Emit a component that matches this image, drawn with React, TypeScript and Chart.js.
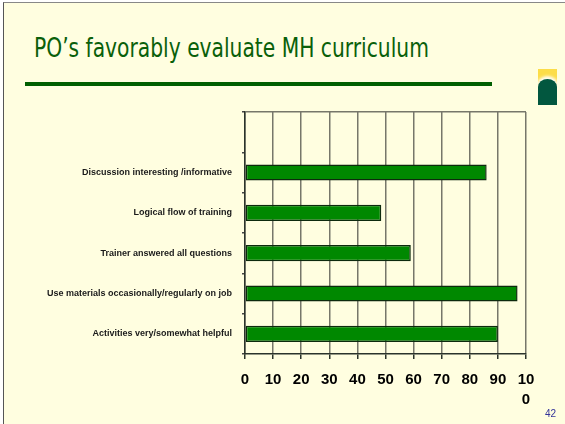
import React, { useEffect, useRef } from "react";
import { Chart, registerables } from "chart.js";
Chart.register(...registerables);

const titleText = "PO\u2019s favorably evaluate MH curriculum";
const slideNumber = "42";
const categories = [
  "",
  "Discussion interesting /informative",
  "Logical flow of training",
  "Trainer answered all questions",
  "Use materials occasionally/regularly on job",
  "Activities very/somewhat helpful",
];
const values: (number | null)[] = [null, 86, 48.5, 59, 97, 90];
const xTickLabels: (string | string[])[] = ["0", "10", "20", "30", "40", "50", "60", "70", "80", "90", ["10", "0"]];

const GRID = "#77776a";
const DARK = "#2b332b";

export default function App() {
  const ref = useRef<HTMLCanvasElement | null>(null);
  useEffect(() => {
    if (!ref.current) return;
    const chart = new Chart(ref.current, {
      type: "bar",
      data: {
        labels: categories,
        datasets: [
          {
            data: values,
            backgroundColor: "#008800",
            borderColor: "#0d2a0d",
            borderWidth: 1.5,
            borderSkipped: false,
            barPercentage: 0.4,
            categoryPercentage: 1,
          },
        ],
      },
      options: {
        indexAxis: "y",
        animation: false,
        responsive: false,
        layout: { padding: { top: 112, right: 39, left: 0, bottom: 0 } },
        plugins: { legend: { display: false }, tooltip: { enabled: false } },
        scales: {
          x: {
            min: 0,
            max: 100,
            afterFit: (s: any) => {
              s.height = 70;
            },
            ticks: {
              stepSize: 10,
              color: "#000",
              padding: 11,
              maxRotation: 0,
              autoSkip: false,
              font: { family: "'Liberation Sans', Arial, sans-serif", size: 15, weight: "bold", lineHeight: 1.33 },
              callback: (_v: any, i: number) => xTickLabels[i],
            },
            grid: { color: GRID, lineWidth: 1.5, tickLength: 5, tickColor: DARK, tickWidth: 1.5 },
            border: { color: DARK, width: 1.5 },
          },
          y: {
            afterFit: (s: any) => {
              s.width = 245;
            },
            ticks: {
              color: "#1a1a1a",
              padding: 10,
              autoSkip: false,
              font: { family: "'Liberation Sans', Arial, sans-serif", size: 9, weight: "bold" },
            },
            grid: {
              offset: true,
              color: (ctx: any) => (ctx.index === 0 ? GRID : "transparent"),
              lineWidth: 1.5,
              tickLength: 3,
              tickColor: "#444",
              tickWidth: 1.5,
            },
            border: { color: DARK, width: 1.5 },
          },
        },
      },
    });
    return () => chart.destroy();
  }, []);

  return (
    <div style={{ position: "absolute", left: 0, top: 0, width: 565, height: 424, background: "#ffffff", overflow: "hidden" }}>
      <div
        style={{
          position: "absolute",
          left: 3,
          top: 2,
          width: 562,
          height: 422,
          background: "#FFFEE0",
          borderLeft: "1.5px solid #555",
          borderTop: "1.5px solid #888",
          boxSizing: "border-box",
        }}
      />
      <div
        style={{
          position: "absolute",
          left: 34,
          top: 32,
          fontFamily: "'DejaVu Sans Condensed', 'DejaVu Sans', sans-serif",
          fontSize: 26,
          lineHeight: "32px",
          color: "#0a600a",
          whiteSpace: "nowrap",
          transform: "scaleX(0.866)",
          transformOrigin: "0 0",
        }}
      >
        {titleText}
      </div>
      <div style={{ position: "absolute", left: 25, top: 82, width: 467, height: 4, background: "#005f00" }} />
      <div style={{ position: "absolute", left: 538, top: 69, width: 19, height: 36, background: "#FCDD48", overflow: "hidden" }}>
        <div
          style={{
            position: "absolute",
            left: 0,
            top: 10,
            width: 19,
            height: 30,
            background: "#02573F",
            borderTopLeftRadius: "9.5px 8px",
            borderTopRightRadius: "9.5px 8px",
            boxShadow: "0 -2px 3px 1px rgba(255,255,255,0.95)",
          }}
        />
      </div>
      <canvas ref={ref} width={565} height={424} style={{ position: "absolute", left: 0, top: 0, width: 565, height: 424 }} />
      <div
        style={{
          position: "absolute",
          left: 545,
          top: 408,
          fontFamily: "'Liberation Sans', Arial, sans-serif",
          fontSize: 10,
          color: "#333399",
        }}
      >
        {slideNumber}
      </div>
    </div>
  );
}
